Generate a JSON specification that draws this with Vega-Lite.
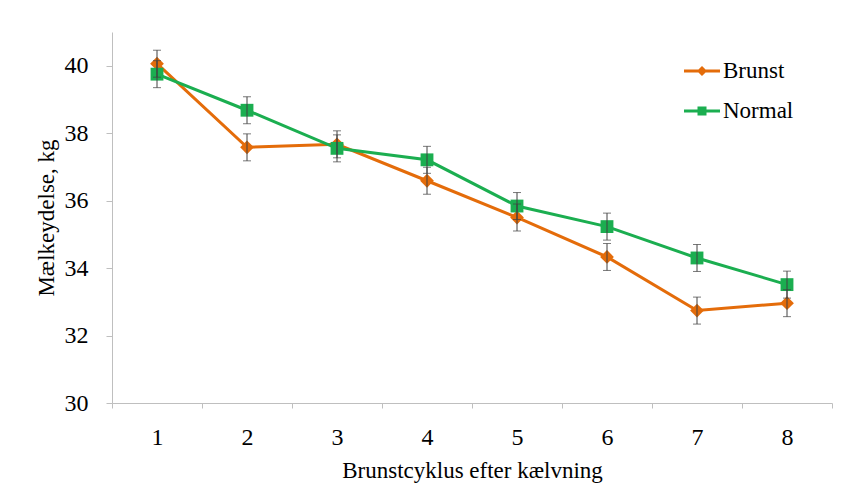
{
  "$schema": "https://vega.github.io/schema/vega-lite/v6.json",
  "autosize": {"type": "none"},
  "width": 720,
  "height": 371,
  "padding": {"left": 112, "top": 32, "right": 10, "bottom": 99},
  "background": "white",
  "config": {
    "view": {"stroke": null},
    "font": "Liberation Serif",
    "axis": {"grid": false, "domainColor": "#bfbfbf", "tickColor": "#bfbfbf", "labelColor": "#000", "titleColor": "#000", "labelFont": "Liberation Serif", "titleFont": "Liberation Serif", "titleFontWeight": "normal", "labelFontSize": 24},
    "axisX": {"tickSize": 5, "labelPadding": 17, "titleFontSize": 23, "titlePadding": 10, "labelAngle": 0},
    "axisY": {"tickSize": 6, "labelPadding": 18, "titleFontSize": 23, "titlePadding": 6},
    "legend": {"labelFont": "Liberation Serif", "labelFontSize": 23, "labelColor": "#000"}
  },
  "data": {
    "values": [
      {"cycle": "1", "series": "Brunst", "value": 40.06, "lower": 39.66, "upper": 40.46},
      {"cycle": "2", "series": "Brunst", "value": 37.58, "lower": 37.18, "upper": 37.98},
      {"cycle": "3", "series": "Brunst", "value": 37.67, "lower": 37.27, "upper": 38.07},
      {"cycle": "4", "series": "Brunst", "value": 36.59, "lower": 36.19, "upper": 36.99},
      {"cycle": "5", "series": "Brunst", "value": 35.5, "lower": 35.1, "upper": 35.9},
      {"cycle": "6", "series": "Brunst", "value": 34.33, "lower": 33.93, "upper": 34.73},
      {"cycle": "7", "series": "Brunst", "value": 32.74, "lower": 32.34, "upper": 33.14},
      {"cycle": "8", "series": "Brunst", "value": 32.96, "lower": 32.56, "upper": 33.36},
      {"cycle": "1", "series": "Normal", "value": 39.75, "lower": 39.35, "upper": 40.15},
      {"cycle": "2", "series": "Normal", "value": 38.68, "lower": 38.28, "upper": 39.08},
      {"cycle": "3", "series": "Normal", "value": 37.55, "lower": 37.15, "upper": 37.95},
      {"cycle": "4", "series": "Normal", "value": 37.21, "lower": 36.81, "upper": 37.61},
      {"cycle": "5", "series": "Normal", "value": 35.84, "lower": 35.44, "upper": 36.24},
      {"cycle": "6", "series": "Normal", "value": 35.23, "lower": 34.83, "upper": 35.63},
      {"cycle": "7", "series": "Normal", "value": 34.3, "lower": 33.9, "upper": 34.7},
      {"cycle": "8", "series": "Normal", "value": 33.51, "lower": 33.11, "upper": 33.91}
    ]
  },
  "encoding": {
    "x": {
      "field": "cycle", "type": "ordinal",
      "scale": {"paddingInner": 0, "paddingOuter": 0},
      "axis": {"tickBand": "extent", "title": "Brunstcyklus efter kælvning", "labelFont": "Liberation Serif", "labelFontSize": 24, "labelColor": "#000", "titleFont": "Liberation Serif"}
    },
    "y": {"field": "value", "type": "quantitative", "scale": {"domain": [30, 41], "nice": false, "zero": false},
      "axis": {"values": [30, 32, 34, 36, 38, 40], "title": "Mælkeydelse, kg", "labelFont": "Liberation Serif", "labelFontSize": 24, "labelColor": "#000", "titleFont": "Liberation Serif"}}
  },
  "layer": [
    {
      "transform": [{"filter": "datum.series === 'Brunst'"}],
      "mark": {"type": "line", "strokeWidth": 3, "color": "#E46C0A"},
      "encoding": {}
    },
    {
      "transform": [{"filter": "datum.series === 'Normal'"}],
      "mark": {"type": "line", "strokeWidth": 3, "color": "#1BAE50"},
      "encoding": {}
    },
    {
      "transform": [{"filter": "datum.series === 'Brunst'"}],
      "mark": {"type": "point", "shape": "diamond", "filled": true, "opacity": 1, "size": 190, "color": "#E46C0A"}
    },
    {
      "transform": [{"filter": "datum.series === 'Normal'"}],
      "mark": {"type": "point", "shape": "square", "filled": true, "opacity": 1, "size": 165, "color": "#1BAE50"}
    },
    {
      "mark": {"type": "rule", "color": "#404040", "strokeWidth": 1},
      "encoding": {"y": {"field": "lower", "type": "quantitative"}, "y2": {"field": "upper"}}
    },
    {
      "mark": {"type": "tick", "color": "#404040", "size": 8, "thickness": 1},
      "encoding": {"y": {"field": "lower", "type": "quantitative"}}
    },
    {
      "mark": {"type": "tick", "color": "#404040", "size": 8, "thickness": 1},
      "encoding": {"y": {"field": "upper", "type": "quantitative"}}
    },
    {
      "mark": {"type": "point", "filled": true, "size": 0},
      "encoding": {
        "fill": {"field": "series", "type": "nominal", "scale": {"domain": ["Brunst", "Normal"], "range": ["#E46C0A", "#1BAE50"]}, "legend": {"title": null, "orient": "none", "legendX": 572, "legendY": 21, "symbolSize": 1296, "symbolStrokeWidth": 0, "symbolOpacity": 1, "labelOffset": 3, "rowPadding": 10, "labelFont": "Liberation Serif", "labelFontSize": 23, "labelColor": "#000"}},
        "shape": {"field": "series", "type": "nominal", "scale": {"domain": ["Brunst", "Normal"], "range": ["M-1,-0.083H1V0.083H-1Z M0,-0.28L0.28,0L0,0.28L-0.28,0Z", "M-1,-0.083H1V0.083H-1Z M-0.25,-0.25H0.25V0.25H-0.25Z"]}, "legend": {"title": null, "orient": "none", "legendX": 572, "legendY": 21, "symbolSize": 1296, "symbolStrokeWidth": 0, "symbolOpacity": 1, "labelOffset": 3, "rowPadding": 10, "labelFont": "Liberation Serif", "labelFontSize": 23, "labelColor": "#000"}}
      }
    }
  ]
}
